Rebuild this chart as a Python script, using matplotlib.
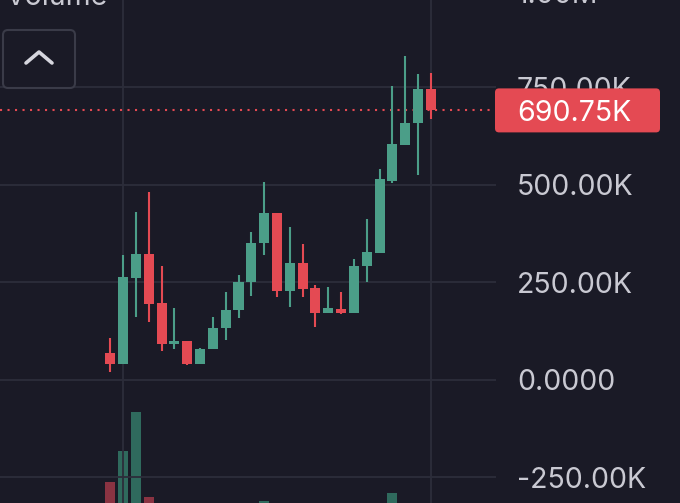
import numpy as np
import matplotlib
matplotlib.use("Agg")
import matplotlib.pyplot as plt
import matplotlib.transforms as mtransforms
from matplotlib.patches import FancyBboxPatch

# OHLC values in thousands
opens = [68.7, 40.5, 261, 322.6, 197, 92, 99.5, 40.5, 79, 133, 179, 251, 351,
         428, 228, 299.5, 235, 171, 181.5, 171, 292, 325, 510, 602, 658, 746]
highs = [107, 320, 430, 481.5, 292, 184, 99.5, 81.5, 161, 225, 269, 379, 507,
         428, 392, 348, 243, 238, 225, 310, 412, 540, 753, 830, 784, 787]
lows = [20, 40.5, 161, 148, 74, 79, 38, 40.5, 79, 102, 158.5, 215, 320,
        212, 187, 212, 135, 171, 169, 171, 251, 325, 505, 602, 525, 669]
closes = [40.5, 263.6, 322.6, 194, 92, 99.5, 40.5, 79, 133, 179, 251, 351, 428,
          228, 299.5, 233, 171, 184, 171, 292, 328, 515, 605, 658, 746, 690.75]
# volume pane (only the tops of the tallest bars are visible)
volumes = [33, 64, 103, 18, 6, 4, 5, 3, 4, 5, 6, 8, 14,
           9, 5, 6, 7, 3, 3, 8, 9, 10, 22, 11, 10, 7]

tick_values = [-250, 0, 250, 500, 750, 1000]
tick_labels = ["-250.00K", "0.0000", "250.00K", "500.00K", "750.00K", "1.00M"]
last_label = "690.75K"

BG = "#1a1a26"
GRID = "#2c2d3a"
GREEN = "#4b9e88"
RED = "#e44a53"
VOL_GREEN = "#2f6a5d"
VOL_RED = "#8a3342"
TXT = "#c9c9d2"
FS = 20.5

plt.rcParams["font.family"] = ["Inter", "DejaVu Sans"]

W, H = 680, 503
fig = plt.figure(figsize=(W / 100, H / 100), dpi=100, facecolor=BG)

pane_w = 496 / W
x = np.arange(len(opens))
xlim = (-110.2 / 12.83, (496 - 110.2) / 12.83)

# volume pane sits behind the price pane, its base is below the visible area
vax = fig.add_axes([0, 0, pane_w, 1])
vax.set_facecolor(BG)
vol_colors = [VOL_GREEN if c >= o else VOL_RED for o, c in zip(opens, closes)]
vax.bar(x, volumes, width=0.78, bottom=0, color=vol_colors)
vax.set_xlim(*xlim)
vax.set_ylim(12, 515)
vax.axis("off")

ax = fig.add_axes([0, 0, pane_w, 1])
ax.patch.set_alpha(0)
for s in ax.spines.values():
    s.set_visible(False)

ax.set_xticks([1, 25])
ax.set_xticklabels([])
ax.set_yticks(tick_values)
ax.set_yticklabels([])
ax.tick_params(length=0)
ax.grid(True, color=GRID, linewidth=1.3)
ax.set_axisbelow(True)
# limits after the ticks, so the ticks don't stretch the view
ax.set_xlim(*xlim)
ax.set_ylim(-315.9, 973.8)

# right-hand price labels, drawn as text so the cut-off top one still shows
label_x = 517 / 496
for v, lab in zip(tick_values, tick_labels):
    tr = ax.get_yaxis_transform()
    if v == tick_values[-1]:
        tr = tr + mtransforms.ScaledTranslation(0, -3 / 100, fig.dpi_scale_trans)
    ax.text(label_x, v, lab, transform=tr, color=TXT,
            fontsize=FS, ha="left", va="center_baseline", clip_on=False)

colors = [GREEN if c >= o else RED for o, c in zip(opens, closes)]
ax.vlines(x, lows, highs, colors=colors, linewidth=1.5, zorder=3)
bottoms = np.minimum(opens, closes)
heights = np.abs(np.array(closes) - np.array(opens))
ax.bar(x, heights, bottom=bottoms, width=0.78, color=colors, zorder=4)

# dotted last-price line
ax.axhline(closes[-1], color=RED, linewidth=1.5, linestyle=(0, (1, 2.6)),
           dash_capstyle="butt", zorder=2)

# overlay in pixel space for the UI chrome
ov = fig.add_axes([0, 0, 1, 1])
ov.set_xlim(0, W)
ov.set_ylim(H, 0)
ov.axis("off")
ov.patch.set_alpha(0)

# price tag, placed at the last close
py = H - ax.transData.transform((0, closes[-1]))[1]
ov.add_patch(FancyBboxPatch((495, py - 22), 165, 44,
                            boxstyle="round,pad=0,rounding_size=4",
                            facecolor=RED, edgecolor="none", zorder=5))
ov.text(517, py, last_label, color="white", fontsize=FS,
        ha="left", va="center_baseline", zorder=6)

# "Volume" caption (cut off at the top) and collapse button
ov.text(5, 5, "Volume", color=TXT, fontsize=FS, ha="left", va="baseline")
ov.add_patch(FancyBboxPatch((3, 30), 72, 58, boxstyle="round,pad=0,rounding_size=5",
                            facecolor=BG, edgecolor="#3a3b48", linewidth=1.5))
ov.plot([26, 39, 52], [63, 52, 63], color="#d6d6de", linewidth=2.6,
        solid_capstyle="round", solid_joinstyle="round")

fig.savefig("out.png", dpi=100, facecolor=BG)
